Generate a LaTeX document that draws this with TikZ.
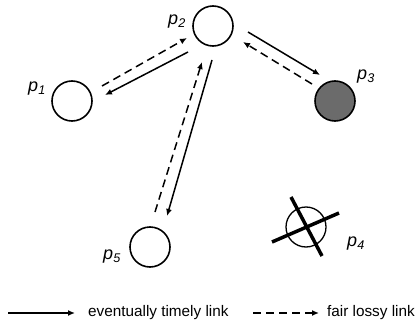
\documentclass[tikz,border=0pt]{standalone}
\usepackage{fontspec}
\setmainfont{Liberation Sans}
\usepackage{tikz}
\usetikzlibrary{arrows.meta,positioning,calc}

\begin{document}
\begin{tikzpicture}[x=1pt,y=1pt,
    proc/.style={circle,draw,line width=1.6pt,minimum size=40pt,inner sep=0pt},
    plabel/.style={font=\fontsize{18}{21}\selectfont\itshape,inner sep=0pt},
    tlink/.style={line width=1.5pt,-{Latex[length=7pt,width=6pt]}},
    flink/.style={tlink,dash pattern=on 8pt off 5pt},
    legtext/.style={font=\fontsize{15.3}{18}\selectfont,inner sep=0pt,anchor=base west}]
    \useasboundingbox (0,0) rectangle (417,322);

    % Processes
    \node[proc] (p1) at (72,221) {};
    \node[proc] (p2) at (213,296) {};
    \node[proc,fill=black!58] (p3) at (335,221) {};
    \node[proc,line width=1.3pt] (p4) at (306,95) {};
    \node[proc] (p5) at (150,75) {};

    % Labels
    \node[plabel] (lp1) at ([shift={(-35,12)}]p1.center) {p\textsubscript{1}};
    \node[plabel] (lp2) at ([shift={(-36,4)}]p2.center) {p\textsubscript{2}};
    \node[plabel] (lp3) at ([shift={(31,24)}]p3.center) {p\textsubscript{3}};
    \node[plabel] (lp4) at ([shift={(50,-17)}]p4.center) {p\textsubscript{4}};
    \node[plabel] (lp5) at ([shift={(-38,-10)}]p5.center) {p\textsubscript{5}};

    % Crashed process
    \draw[line width=3.5pt] ([shift={(-34,-15)}]p4.center) -- ([shift={(33,14)}]p4.center);
    \draw[line width=3.5pt] ([shift={(-15,30)}]p4.center) -- ([shift={(16,-29)}]p4.center);

    % Links
    \draw[flink] ([shift={(30,15)}]p1.center) -- ([shift={(-26,-12)}]p2.center);
    \draw[tlink] ([shift={(-25,-26)}]p2.center) -- ([shift={(33,6)}]p1.center);
    \draw[tlink] ([shift={(35,-6)}]p2.center) -- ([shift={(-15,26)}]p3.center);
    \draw[flink] ([shift={(-23,17)}]p3.center) -- ([shift={(30,-16)}]p2.center);
    \draw[tlink] ([shift={(-1,-34)}]p2.center) -- ([shift={(17,31)}]p5.center);
    \draw[flink] ([shift={(5,35)}]p5.center) -- ([shift={(-11,-36)}]p2.center);

    % Legend
    \node[legtext] (tltext) at (88,6) {eventually timely link};
    \coordinate (tlstart) at (8,9);
    \draw[tlink,shorten >=13pt] (tlstart) -- (tlstart -| tltext.west);
    \node[legtext] (fltext) at (327,6) {fair lossy link};
    \coordinate (flstart) at (253,9);
    \draw[flink,shorten >=8pt] (flstart) -- (flstart -| fltext.west);
\end{tikzpicture}
\end{document}
